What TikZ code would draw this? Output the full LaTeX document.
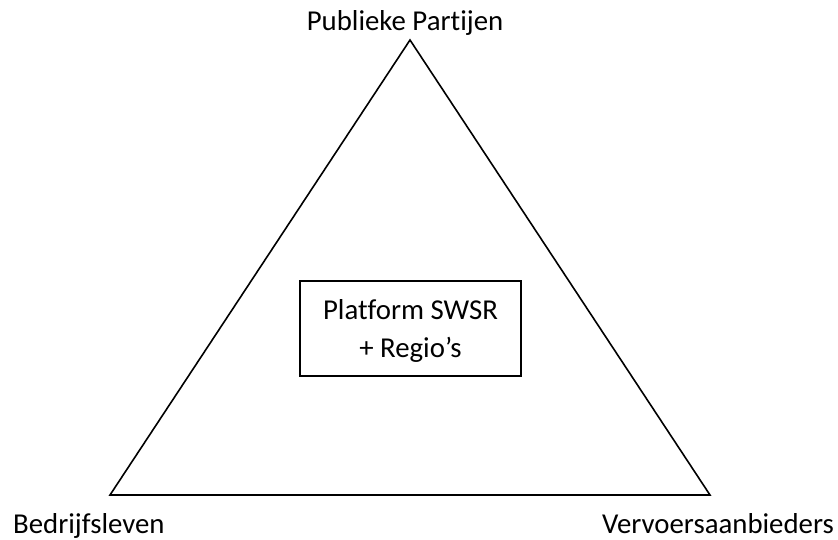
\documentclass[tikz,border=0pt]{standalone}
\usepackage{fontspec}
\setmainfont{Carlito}[Ligatures={NoCommon}]
\begin{document}
\begin{tikzpicture}[x=1pt,y=-1pt,
  lbl/.style={font=\fontsize{28.8}{34}\selectfont, inner sep=0pt, anchor=base},
  edge/.style={draw=black, line width=1.6pt, line join=miter}]
\useasboundingbox (0,0) rectangle (838,539);
% corners of the triangle
\coordinate (top) at (410,40);
\coordinate (bl) at (110,495);
\coordinate (br) at (710,495);
\draw[edge] (top) -- (bl) -- (br) -- cycle;
% central box
\node[draw, line width=1.6pt, minimum width=221pt, minimum height=95pt, inner sep=0pt] (box) at (410.5,328.5) {};
\node[lbl] (l1) at (410.5,319) {Platform SWSR};
\node[lbl] (l2) at (410.5,357) {+ Regio’s};
% corner labels
\node[lbl] (pub) at (405,30) {Publieke Partijen};
\node[lbl, anchor=base west] (bed) at (13,533) {Bedrijfsleven};
\node[lbl, anchor=base east] (ver) at (834,533) {Vervoersaanbieders};
\end{tikzpicture}
\end{document}
